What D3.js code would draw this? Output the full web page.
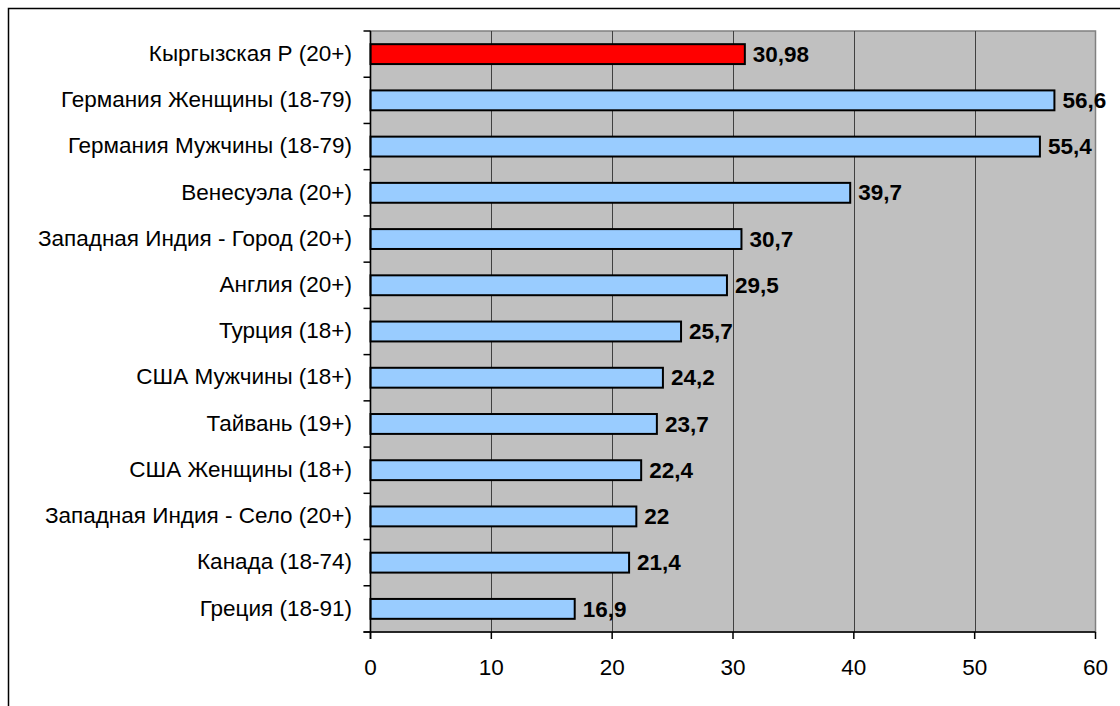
<!DOCTYPE html>
<html>
<head>
<meta charset="utf-8">
<script src="https://cdn.jsdelivr.net/npm/d3@7"></script>
<style>
  html, body { margin: 0; padding: 0; background: #fff; }
  svg { display: block; }
  text { font-family: "Liberation Sans", Arial, sans-serif; }
</style>
</head>
<body>
<svg id="chart" width="1120" height="706"></svg>
<script>
// Categories (top to bottom) and their values
const categories = [
  "Кыргызская Р (20+)",
  "Германия Женщины (18-79)",
  "Германия Мужчины (18-79)",
  "Венесуэла (20+)",
  "Западная Индия - Город (20+)",
  "Англия (20+)",
  "Турция (18+)",
  "США Мужчины (18+)",
  "Тайвань (19+)",
  "США Женщины (18+)",
  "Западная Индия - Село (20+)",
  "Канада (18-74)",
  "Греция (18-91)"
];
const values = [30.98, 56.6, 55.4, 39.7, 30.7, 29.5, 25.7, 24.2, 23.7, 22.4, 22, 21.4, 16.9];
const valueLabels = ["30,98", "56,6", "55,4", "39,7", "30,7", "29,5", "25,7", "24,2", "23,7", "22,4", "22", "21,4", "16,9"];
const xTicks = [0, 10, 20, 30, 40, 50, 60];

const svg = d3.select("#chart");
const fontSize = 22.5;

// Outer frame
svg.append("rect")
  .attr("x", 8.5).attr("y", 8.5)
  .attr("width", 1130).attr("height", 720)
  .attr("fill", "none").attr("stroke", "#000").attr("stroke-width", 1.5);

const plot = { left: 370.5, top: 31, right: 1095.5, bottom: 632 };

const x = d3.scaleLinear().domain([0, 60]).range([plot.left, plot.right]);
const y = d3.scaleBand().domain(categories).range([plot.top, plot.bottom]).paddingInner(0.57).paddingOuter(0.285);
const yBand = d3.scaleBand().domain(categories).range([plot.top, plot.bottom]);

// Plot background
svg.append("rect")
  .attr("x", plot.left).attr("y", plot.top)
  .attr("width", plot.right - plot.left).attr("height", plot.bottom - plot.top)
  .attr("fill", "#c0c0c0").attr("stroke", "#808080").attr("stroke-width", 1.5);

// Vertical gridlines
svg.append("g").selectAll("line")
  .data(xTicks.slice(1, -1))
  .join("line")
  .attr("x1", d => Math.round(x(d)) + 0.5).attr("x2", d => Math.round(x(d)) + 0.5)
  .attr("y1", plot.top).attr("y2", plot.bottom)
  .attr("stroke", "#404040").attr("stroke-width", 1);

// Bars
svg.append("g").selectAll("rect")
  .data(values)
  .join("rect")
  .attr("x", plot.left)
  .attr("y", (d, i) => y(categories[i]))
  .attr("width", d => x(d) - plot.left)
  .attr("height", y.bandwidth())
  .attr("fill", (d, i) => i === 0 ? "#ff0000" : "#99ccff")
  .attr("stroke", "#000").attr("stroke-width", 2);

// Value labels
svg.append("g").selectAll("text")
  .data(values)
  .join("text")
  .attr("x", d => x(d) + 8)
  .attr("y", (d, i) => y(categories[i]) + y.bandwidth() / 2)
  .attr("dy", "0.34em")
  .attr("font-size", fontSize)
  .attr("font-weight", "bold")
  .attr("fill", "#000")
  .text((d, i) => valueLabels[i]);

// Y axis: line, ticks at band boundaries, category labels
const yAxis = svg.append("g");
yAxis.append("line")
  .attr("x1", plot.left).attr("x2", plot.left)
  .attr("y1", plot.top).attr("y2", plot.bottom + 7)
  .attr("stroke", "#000").attr("stroke-width", 1.5);
const boundaries = categories.map(c => yBand(c)).concat([plot.bottom]);
yAxis.selectAll("line.tick")
  .data(boundaries)
  .join("line").attr("class", "tick")
  .attr("x1", plot.left - 7).attr("x2", plot.left)
  .attr("y1", d => d).attr("y2", d => d)
  .attr("stroke", "#000").attr("stroke-width", 1.5);
yAxis.selectAll("text")
  .data(categories)
  .join("text")
  .attr("x", 352)
  .attr("y", d => yBand(d) + yBand.bandwidth() / 2)
  .attr("dy", "0.3em")
  .attr("text-anchor", "end")
  .attr("font-size", fontSize)
  .attr("fill", "#000")
  .text(d => d);

// X axis
const xAxis = svg.append("g");
xAxis.append("line")
  .attr("x1", plot.left - 7).attr("x2", plot.right)
  .attr("y1", plot.bottom).attr("y2", plot.bottom)
  .attr("stroke", "#000").attr("stroke-width", 1.5);
xAxis.selectAll("line.tick")
  .data(xTicks)
  .join("line").attr("class", "tick")
  .attr("x1", d => x(d)).attr("x2", d => x(d))
  .attr("y1", plot.bottom).attr("y2", plot.bottom + 7)
  .attr("stroke", "#000").attr("stroke-width", 1.5);
xAxis.selectAll("text")
  .data(xTicks)
  .join("text")
  .attr("x", d => x(d))
  .attr("y", 675)
  .attr("text-anchor", "middle")
  .attr("font-size", fontSize)
  .attr("fill", "#000")
  .text(d => d);
</script>
</body>
</html>
